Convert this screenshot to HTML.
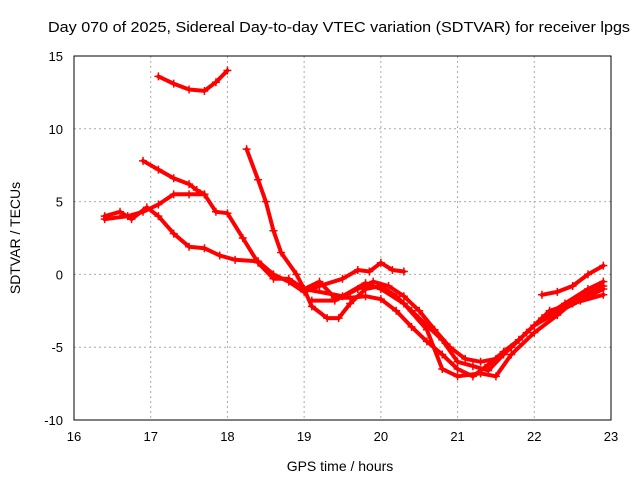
<!DOCTYPE html>
<html><head><meta charset="utf-8"><style>
body{margin:0;background:#fff;}
svg{display:block;font-family:"Liberation Sans",sans-serif;}
</style></head><body>
<svg id="chart" width="640" height="480">
<rect width="640" height="480" fill="#fff"/>
<text x="339" y="32" font-size="15" text-anchor="middle" textLength="582" lengthAdjust="spacingAndGlyphs">Day 070 of 2025, Sidereal Day-to-day VTEC variation (SDTVAR) for receiver lpgs</text>
<text x="340" y="471" font-size="14" text-anchor="middle">GPS time / hours</text>
<text transform="translate(20,238) rotate(-90)" font-size="14" text-anchor="middle">SDTVAR / TECUs</text>
<g id="grid"></g><g id="ticks"></g><g id="series"></g>
<rect x="74" y="56" width="537" height="364" fill="none" stroke="#000"/>
</svg>
<script>
const xTicks=[16,17,18,19,20,21,22,23];
const yTicks=[-10,-5,0,5,10,15];
const s1x=[17.1,17.3,17.5,17.7,17.85,18.0];
const s1y=[13.6,13.1,12.7,12.6,13.2,14.0];
const s2x=[16.4,16.6,16.75,16.95,17.1,17.3,17.5,17.7,17.9,18.1,18.4,18.6,18.8,19.0,19.2,19.5,19.7,19.85,20.0,20.15,20.3];
const s2y=[4.0,4.3,3.8,4.6,4.0,2.8,1.9,1.8,1.3,1.0,0.9,0.0,-0.5,-1.2,-0.8,-0.3,0.3,0.2,0.8,0.3,0.2];
const s3x=[16.4,16.7,16.9,17.1,17.3,17.5,17.7,17.85,18.0,18.2,18.4,18.6,18.8,19.0,19.2,19.4,19.6,19.8,20.0,20.2,20.4,20.6,20.8,21.0,21.2,21.4,21.6,21.8,22.0,22.3,22.6,22.9];
const s3y=[3.8,4.0,4.3,4.8,5.5,5.5,5.5,4.3,4.2,2.5,0.8,-0.3,-0.3,-1.0,-0.5,-1.6,-1.6,-1.5,-1.7,-2.5,-3.6,-4.6,-5.5,-6.5,-7.0,-6.2,-5.3,-4.5,-3.5,-2.6,-1.8,-1.0];
const s4x=[16.9,17.1,17.3,17.5,17.6,17.7];
const s4y=[7.8,7.2,6.6,6.2,5.8,5.5];
const s5x=[18.25,18.4,18.5,18.6,18.7,18.9,19.0,19.1,19.3,19.45,19.6,19.8,20.0,20.2,20.4,20.6,20.8,21.0,21.2,21.4,21.6,21.8,22.0,22.2,22.5,22.9];
const s5y=[8.6,6.5,5.0,3.0,1.5,0.0,-1.0,-2.2,-3.0,-3.0,-2.0,-1.0,-0.8,-1.5,-2.5,-3.5,-4.5,-6.0,-6.3,-6.6,-5.5,-4.5,-3.5,-2.5,-2.0,-1.4];
const s6x=[19.1,19.4,19.7,19.9,20.1,20.3,20.5,20.7,20.9,21.1,21.3,21.5,21.7,21.9,22.1,22.4,22.7,22.9];
const s6y=[-1.8,-1.8,-1.0,-0.5,-0.8,-1.5,-2.5,-3.8,-5.0,-5.8,-6.0,-5.8,-5.0,-4.0,-3.0,-2.0,-1.0,-0.5];
const s7x=[19.0,19.5,19.8,20.0,20.3,20.6,20.8,21.0,21.3,21.5,21.7,22.0,22.3,22.6,22.9];
const s7y=[-1.0,-1.5,-0.6,-1.0,-2.0,-3.8,-6.5,-7.0,-6.8,-7.0,-5.5,-4.0,-2.8,-1.5,-0.8];
const s8x=[22.1,22.3,22.5,22.7,22.9];
const s8y=[-1.4,-1.2,-0.8,0.0,0.6];
const seriesX=[s1x,s2x,s3x,s4x,s5x,s6x,s7x,s8x];
const seriesY=[s1y,s2y,s3y,s4y,s5y,s6y,s7y,s8y];
const NS="http://www.w3.org/2000/svg";
const X=v=>74+(v-16)*(537/7);
const Y=v=>420-(v+10)*(364/25);
function mk(t,a,p){const e=document.createElementNS(NS,t);for(const k in a)e.setAttribute(k,a[k]);p.appendChild(e);return e;}
const grid=document.getElementById('grid'),ticks=document.getElementById('ticks'),ser=document.getElementById('series');
xTicks.forEach(t=>{
 if(t>16&&t<23){const g=mk('line',{x1:X(t),x2:X(t),y1:56,y2:420,stroke:'#aaa','stroke-dasharray':'2,3'},grid);
 
 }
 const l=mk('text',{x:X(t),y:441,'font-size':13,'text-anchor':'middle'},ticks);l.textContent=t;
 
 
});
yTicks.forEach(t=>{
 if(t>-10&&t<15){const g=mk('line',{x1:74,x2:611,y1:Y(t),y2:Y(t),stroke:'#aaa','stroke-dasharray':'2,3'},grid);
 
 }
 const l=mk('text',{x:63,y:Y(t)+5,'font-size':13,'text-anchor':'end'},ticks);l.textContent=t;
 
 
});
seriesX.forEach((xs,i)=>{
 const ys=seriesY[i];
 const pts=xs.map((x,j)=>X(x).toFixed(1)+','+Y(ys[j]).toFixed(1)).join(' ');
 const p=mk('polyline',{points:pts,fill:'none',stroke:'#f00','stroke-width':4,'stroke-linejoin':'round','stroke-linecap':'round'},ser);
 
 
 xs.forEach((x,j)=>{const cx=X(x),cy=Y(ys[j]);
  const m=mk('path',{d:`M${cx-4},${cy}h8M${cx},${cy-4}v8`,stroke:'#f00','stroke-width':1.5},ser);
  
  
 });
});
</script>
</body></html>
